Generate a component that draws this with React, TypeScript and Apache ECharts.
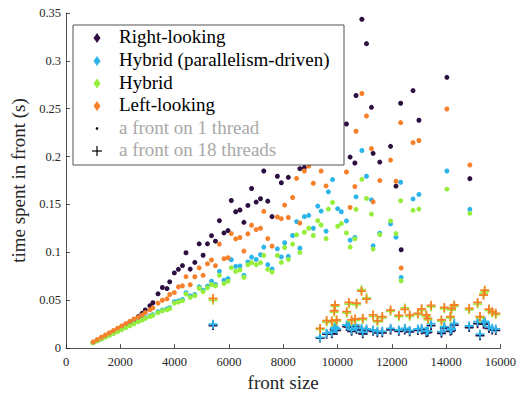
import React, { useEffect, useRef } from "react";
import * as echarts from "echarts";

// ---- 1-thread fronts (dots) ----
const sizes1 = [1000, 1150, 1300, 1450, 1600, 1750, 1900, 2050, 2200, 2350, 2500, 2660, 2800, 2920, 3090, 3200, 3390, 3550, 3720, 3820, 3990, 4140, 4290, 4420, 4575, 4745, 4905, 5050, 5210, 5360, 5505, 5650, 5820, 5967, 6089, 6249, 6407, 6553, 6700, 6835, 7004, 7164, 7285, 7432, 7590, 7786, 7932, 8054, 8189, 8347, 8493, 8615, 8780, 8940, 9110, 9274, 9397, 9580, 9665, 9818, 10007, 10141, 10330, 10465, 10640, 10684, 10898, 11068, 11251, 11312, 11557, 11955, 12155, 12326, 12346, 12783, 13000, 14030, 14876];
const rightLooking1 = [0.0058, 0.0078, 0.0099, 0.012, 0.0142, 0.0165, 0.019, 0.0215, 0.024, 0.0265, 0.029, 0.0329, 0.0363, 0.0398, 0.0443, 0.0474, 0.0567, 0.0633, 0.0622, 0.0692, 0.0785, 0.0823, 0.0862, 0.0996, 0.0825, 0.0895, 0.1089, 0.097, 0.1089, 0.1174, 0.1117, 0.1331, 0.1203, 0.1227, 0.1542, 0.1424, 0.1442, 0.1314, 0.149, 0.1667, 0.1525, 0.156, 0.185, 0.1535, 0.1373, 0.1795, 0.1727, null, 0.1784, null, null, 0.1874, 0.1885, null, null, null, null, null, null, null, null, null, 0.2341, 0.1995, 0.1933, 0.2638, 0.3435, 0.318, 0.2515, 0.2034, 0.1943, 0.2107, 0.1692, 0.2557, 0.1027, 0.269, 0.238, 0.2828, 0.177];
const hybridPar1 = [0.0058, 0.0078, 0.0098, 0.0118, 0.0138, 0.0158, 0.0178, 0.0198, 0.0218, 0.0238, 0.026, 0.0283, 0.03, 0.0318, 0.0335, 0.035, 0.038, 0.0398, 0.041, 0.0422, 0.0484, 0.0494, 0.0508, 0.0578, 0.0545, 0.056, 0.064, 0.0605, 0.0647, 0.0698, 0.0664, 0.0802, 0.0709, 0.0726, 0.0923, 0.0854, 0.0858, 0.076, 0.0899, 0.0951, 0.0926, 0.0975, 0.1055, 0.0871, 0.0826, 0.1037, 0.0952, 0.11, 0.0958, 0.1176, 0.1321, 0.1044, 0.1373, 0.1386, 0.1252, 0.1483, 0.1431, 0.1221, 0.1632, 0.176, 0.1456, 0.1424, 0.1328, 0.1128, 0.1155, 0.158, 0.2064, 0.1795, 0.1549, 0.1068, 0.12, 0.1297, 0.1159, 0.1732, 0.0737, 0.1558, 0.1605, 0.185, 0.1449];
const hybrid1 = [0.0055, 0.0075, 0.0095, 0.0114, 0.0134, 0.0153, 0.0173, 0.0193, 0.0213, 0.0233, 0.0254, 0.0276, 0.0293, 0.031, 0.0328, 0.0342, 0.037, 0.039, 0.04, 0.0412, 0.047, 0.048, 0.0495, 0.0565, 0.053, 0.0548, 0.0625, 0.059, 0.063, 0.0664, 0.065, 0.076, 0.0674, 0.0698, 0.084, 0.0802, 0.0816, 0.074, 0.087, 0.0892, 0.0871, 0.0892, 0.0968, 0.0823, 0.0795, 0.0968, 0.0895, 0.1051, 0.0926, 0.1086, 0.1183, 0.0999, 0.121, 0.1252, 0.1176, 0.1331, 0.1286, 0.1144, 0.1452, 0.1521, 0.1273, 0.13, 0.1203, 0.1055, 0.1141, 0.1449, 0.1763, 0.1563, 0.14, 0.1034, 0.1186, 0.1328, 0.1196, 0.1539, 0.0702, 0.1439, 0.1452, 0.166, 0.1408];
const leftLooking1 = [0.0065, 0.0089, 0.0113, 0.0137, 0.016, 0.0184, 0.0208, 0.0232, 0.0256, 0.028, 0.0304, 0.0322, 0.0345, 0.037, 0.04, 0.042, 0.047, 0.05, 0.0515, 0.056, 0.058, 0.064, 0.065, 0.0746, 0.0662, 0.0745, 0.0838, 0.076, 0.088, 0.092, 0.0861, 0.1086, 0.0934, 0.0944, 0.1196, 0.1141, 0.1155, 0.1013, 0.1193, 0.1283, 0.1238, 0.1252, 0.1428, 0.1144, 0.1065, 0.1369, 0.1352, 0.1494, 0.1364, 0.1573, 0.1772, 0.1307, 0.185, 0.19, 0.1722, null, 0.185, 0.1694, null, null, null, null, 0.1839, 0.1469, 0.1687, 0.2265, 0.2659, 0.2424, 0.2084, 0.1528, 0.175, 0.1964, 0.1743, 0.2355, 0.0837, 0.2146, 0.2168, 0.2497, 0.1912];

// ---- 18-thread fronts (plus markers) ----
const sizes18 = [5417, 9360, 9600, 9790, 9880, 9910, 9970, 10340, 10420, 10520, 10650, 10700, 10885, 10930, 11070, 11312, 11470, 11650, 11955, 12260, 12480, 12660, 12960, 13100, 13270, 13330, 13447, 13830, 13936, 14160, 14200, 14300, 14852, 15160, 15250, 15380, 15425, 15580, 15700, 15830];
const rightLooking18 = [0.0235, 0.0105, 0.0145, 0.015, 0.019, 0.02, 0.0185, 0.0225, 0.022, 0.0175, 0.0225, 0.0195, 0.019, 0.015, 0.0185, 0.0175, 0.016, 0.016, 0.019, 0.0175, 0.019, 0.017, 0.0185, 0.019, 0.016, 0.0165, 0.0235, 0.0155, 0.021, 0.0175, 0.0185, 0.024, 0.0215, 0.0255, 0.013, 0.025, 0.0265, 0.0205, 0.019, 0.0185];
const hybridPar18 = [0.0249, 0.0111, 0.0156, 0.0166, 0.0207, 0.0215, 0.02, 0.0242, 0.0235, 0.019, 0.0242, 0.021, 0.0207, 0.0166, 0.02, 0.019, 0.0175, 0.0175, 0.0207, 0.019, 0.0207, 0.0185, 0.02, 0.0207, 0.0175, 0.018, 0.0255, 0.0173, 0.0225, 0.019, 0.02, 0.0259, 0.0231, 0.0277, 0.0145, 0.027, 0.028, 0.0225, 0.0207, 0.02];
const hybrid18 = [0.05, 0.0195, 0.0272, 0.027, 0.0375, 0.0435, 0.0282, 0.0365, 0.046, 0.028, 0.029, 0.0455, 0.061, 0.0298, 0.0525, 0.0332, 0.0275, 0.0315, 0.0385, 0.033, 0.042, 0.0332, 0.035, 0.0395, 0.0332, 0.0298, 0.043, 0.0282, 0.041, 0.0315, 0.04, 0.0435, 0.04, 0.046, 0.0315, 0.057, 0.059, 0.0395, 0.0368, 0.035];
const leftLooking18 = [0.0519, 0.0205, 0.0287, 0.0284, 0.039, 0.045, 0.0294, 0.038, 0.0477, 0.0294, 0.0304, 0.047, 0.0595, 0.0311, 0.0511, 0.0346, 0.0287, 0.0329, 0.0397, 0.0342, 0.0405, 0.0346, 0.0363, 0.041, 0.0346, 0.0311, 0.0447, 0.0294, 0.0425, 0.0329, 0.0415, 0.045, 0.0415, 0.0477, 0.0329, 0.0553, 0.0605, 0.0408, 0.038, 0.0363];

const seriesNames = ["Right-looking", "Hybrid (parallelism-driven)", "Hybrid", "Left-looking"];
const seriesColors = ["#2c0f40", "#2cb5ea", "#96ee3c", "#f7802a"];
const extraLegend = ["a front on 1 thread", "a front on 18 threads"];
const xTicks = { min: 0, max: 16000, interval: 2000 };
const yTicks = { min: 0, max: 0.35, interval: 0.05 };

const PLUS = "path://M4,0H6V4H10V6H6V10H4V6H0V4H4Z";
const FONT = "serif";

function pairs(xs: number[], ys: (number | null)[]) {
  const out: number[][] = [];
  xs.forEach((x, i) => {
    const y = ys[i];
    if (y !== null && y !== undefined) out.push([x, y]);
  });
  return out;
}

export default function App() {
  const ref = useRef<HTMLDivElement>(null);
  useEffect(() => {
    document.body.style.margin = "0";
    if (!ref.current) return;
    const chart = echarts.init(ref.current, null, { renderer: "svg" });
    const ones = [rightLooking1, hybridPar1, hybrid1, leftLooking1];
    const eighteens = [rightLooking18, hybridPar18, hybrid18, leftLooking18];
    const series: any[] = [];
    seriesNames.forEach((name, i) => {
      series.push({
        type: "scatter",
        name,
        symbol: "circle",
        symbolSize: 5,
        itemStyle: { color: seriesColors[i], opacity: 1 },
        data: pairs(sizes1, ones[i]),
      });
    });
    seriesNames.forEach((name, i) => {
      series.push({
        type: "scatter",
        name,
        symbol: PLUS,
        symbolSize: 9,
        itemStyle: { color: seriesColors[i], opacity: 1 },
        data: pairs(sizes18, eighteens[i]),
      });
    });

    const lx = 73, ly = 25, lw = 271, lh = 140;
    const rows = [38, 61, 83.5, 106, 128.5, 151];
    const mx = 97;
    const graphics: any[] = [
      { type: "rect", z: 5, shape: { x: lx, y: ly, width: lw, height: lh }, style: { fill: "#fff", stroke: "#262626", lineWidth: 0.8 } },
    ];
    seriesNames.forEach((_, i) => {
      const y = rows[i];
      graphics.push({
        type: "polygon", z: 5,
        shape: { points: [[mx, y - 5], [mx + 3.5, y], [mx, y + 5], [mx - 3.5, y]] },
        style: { fill: seriesColors[i] },
      });
    });
    graphics.push({ type: "circle", z: 5, shape: { cx: mx, cy: rows[4], r: 1.3 }, style: { fill: "#000" } });
    graphics.push({ type: "line", z: 5, shape: { x1: mx - 5, y1: rows[5], x2: mx + 5, y2: rows[5] }, style: { stroke: "#000", lineWidth: 1.2 } });
    graphics.push({ type: "line", z: 5, shape: { x1: mx, y1: rows[5] - 5, x2: mx, y2: rows[5] + 5 }, style: { stroke: "#000", lineWidth: 1.2 } });

    // legend texts as title components (drawn above the legend box)
    const legendTexts = [...seriesNames, ...extraLegend];
    const titles = legendTexts.map((t, k) => ({
      text: t,
      left: 119,
      top: rows[k] - 11,
      padding: 0,
      textStyle: { fontFamily: FONT, fontSize: 19, fontWeight: "normal", color: k < 4 ? "#000" : "#a8a8a8" },
    }));

    const axisCommon = {
      axisLine: { show: true, lineStyle: { color: "#262626", width: 0.8 } },
      axisTick: { show: true, inside: true, length: 4, lineStyle: { color: "#262626", width: 0.8 } },
      splitLine: { show: false },
      nameTextStyle: { fontFamily: FONT, fontSize: 19, color: "#262626" },
    };

    chart.setOption({
      animation: false,
      backgroundColor: "#fff",
      title: titles,
      grid: { left: 66, right: 16, top: 13, bottom: 47, containLabel: false },
      xAxis: {
        type: "value",
        ...xTicks,
        ...axisCommon,
        name: "front size",
        nameLocation: "middle",
        nameGap: 24,
        axisLabel: { fontFamily: FONT, fontSize: 12.5, color: "#262626", margin: 7, formatter: (v: number) => String(v) },
      },
      yAxis: {
        type: "value",
        ...yTicks,
        ...axisCommon,
        name: "time spent in front (s)",
        nameLocation: "middle",
        nameGap: 38,
        axisLabel: { fontFamily: FONT, fontSize: 12.5, color: "#262626", margin: 5, formatter: (v: number) => String(Math.round(v * 100) / 100) },
      },
      series,
      graphic: graphics,
    });
    return () => chart.dispose();
  }, []);
  return <div ref={ref} style={{ width: 519, height: 397 }} />;
}
